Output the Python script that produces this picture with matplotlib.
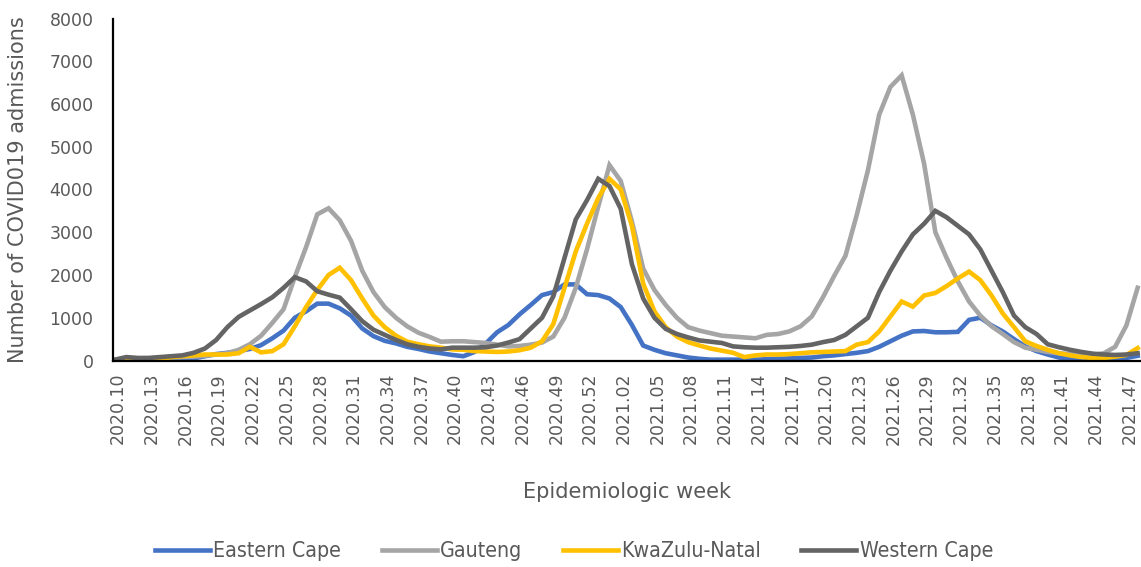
import matplotlib.pyplot as plt
from matplotlib.transforms import ScaledTranslation
from matplotlib.font_manager import FontProperties

# epidemiologic weeks 2020.10 - 2021.48 (2020 has 53 weeks)
weeks = [f"2020.{w:02d}" for w in range(10, 54)] + [f"2021.{w:02d}" for w in range(1, 49)]

eastern_cape = [0, 10, 10, 10, 20, 20, 30, 50, 100, 150, 180, 220,
                270, 360, 520, 700, 1000, 1150, 1330, 1330, 1220, 1050, 750, 570, 460, 400, 320, 270, 210, 170, 130,
                100, 200, 400, 660, 830, 1080, 1300, 1530, 1600, 1780, 1780, 1550, 1530, 1450, 1250, 830, 350, 250, 170, 120, 70, 40, 20,
                20, 20, 20, 20, 30, 40, 50, 60, 70,
                100, 120, 150, 180, 220, 320, 450, 580, 680, 690, 660, 660, 670, 950, 1000, 820, 680, 500, 330, 220, 140, 70, 40, 20, 20, 20, 30, 60, 110]

gauteng = [20, 50, 40, 50, 60, 70, 80, 90, 110, 140, 170,
           250, 380, 580, 880, 1200, 1950, 2650, 3420, 3560, 3280, 2800, 2100, 1600, 1250, 1000, 800, 650, 550, 440, 450,
           450, 430, 410, 370, 330, 340, 370, 420, 560, 1000, 1700, 2600, 3600, 4570, 4200, 3250, 2150, 1650, 1300, 1000, 780, 700, 640, 580, 560, 540, 520, 600, 620, 680,
           800, 1030, 1480, 1980, 2450, 3400, 4450, 5750, 6400, 6670, 5750, 4600, 3000, 2400, 1850, 1380, 1050, 800, 620, 430, 300, 250, 200, 170, 150, 130, 130, 170, 320, 820, 1700]

kwazulu_natal = [0, 10, 20, 20, 30, 80, 100, 120, 140, 140, 140, 170,
                 320, 190, 220, 380, 800, 1250, 1650, 2000, 2170, 1880, 1450, 1050, 780, 580, 440, 380, 330, 300, 260,
                 250, 220, 210, 200, 210, 240, 300, 450, 850, 1700, 2550, 3200, 3800, 4250, 4000, 3150, 1800, 1150, 780, 560, 430, 350, 280, 230, 180, 80, 120, 140, 140, 150,
                 170, 190, 200, 210, 220, 370, 430, 680, 1030, 1380, 1260, 1520, 1580, 1740, 1920, 2080, 1880, 1520, 1100, 780, 450, 340, 250, 170, 120, 80, 60, 60, 90, 130, 290]

western_cape = [20, 80, 60, 60, 80, 100, 120, 180, 280, 480, 780, 1020, 1170, 1320, 1480, 1700, 1950, 1850, 1620, 1540, 1470, 1200, 920, 720, 600, 480, 380, 320, 280, 260, 300,
                300, 300, 310, 350, 420, 500, 750, 1000, 1500, 2400, 3300, 3750, 4250, 4080, 3550, 2250, 1450, 1000, 740, 620, 540, 470, 440, 410, 330, 310, 300, 300, 310, 320,
                340, 370, 430, 480, 600, 800, 1000, 1600, 2100, 2550, 2950, 3200, 3500, 3350, 3150, 2950, 2600, 2100, 1600, 1050, 780, 620, 380, 310, 250, 200, 160, 140, 130, 140, 170]

series = [("Eastern Cape", eastern_cape, "#4472C4"),
          ("Gauteng", gauteng, "#A5A5A5"),
          ("KwaZulu-Natal", kwazulu_natal, "#FFC000"),
          ("Western Cape", western_cape, "#646464")]

text_col = "#595959"

fig = plt.figure(figsize=(11.41, 5.67), dpi=100)
ax = fig.add_axes([113 / 1141, 1 - 360.5 / 567, (1141 - 113) / 1141, 342 / 567])

x = list(range(len(weeks)))
for name, vals, col in series:
    ax.plot(x, vals, color=col, lw=3.3, label=name, solid_joinstyle="miter")

ax.set_xlim(-0.18, 91.3)
ax.set_ylim(0, 8000)
ax.set_yticks(range(0, 8001, 1000))
ax.set_xticks(x[::3])
ax.set_xticklabels(weeks[::3], rotation=90)
ax.tick_params(length=0, labelsize=12.5, labelcolor=text_col)
ax.tick_params(axis="y", pad=14)
ax.tick_params(axis="x", pad=9)
# rotated labels sit a little right of the category position
off = ScaledTranslation(3 / 100, 0, fig.dpi_scale_trans)
for lbl in ax.get_xticklabels():
    lbl.set_transform(lbl.get_transform() + off)

for s in ["top", "right"]:
    ax.spines[s].set_visible(False)
for s in ["left", "bottom"]:
    ax.spines[s].set_color("black")
    ax.spines[s].set_linewidth(1.6)

ax.set_ylabel("Number of COVID019 admissions", fontsize=15, color=text_col)
ax.yaxis.set_label_coords(-85 / 1028, 0.5)
ax.set_xlabel("Epidemiologic week", fontsize=15, color=text_col)
ax.xaxis.set_label_coords((627 - 113) / 1028, -(482 - 360.5) / 342)

leg_font = FontProperties(family="DejaVu Sans", stretch="condensed", size=15.3)
fig.legend(loc="center", bbox_to_anchor=(0.503, 1 - 551 / 567), ncol=4, frameon=False,
           prop=leg_font, labelcolor=text_col, handlelength=2.6, handletextpad=0.15,
           columnspacing=1.9)

fig.savefig("out.png", dpi=100)
